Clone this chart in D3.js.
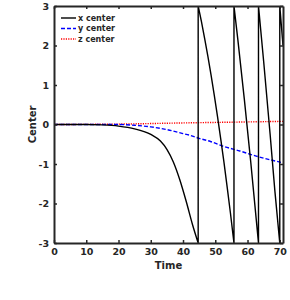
<!DOCTYPE html>
<html>
<head>
<meta charset="utf-8">
<script src="https://cdn.jsdelivr.net/npm/d3@7"></script>
<style>
body { margin: 0; background: #fff; }
text { font-family: "DejaVu Sans", sans-serif; font-weight: bold; fill: #262626; }
</style>
</head>
<body>
<svg id="chart" width="290" height="300"></svg>
<script>
// GLOBALS
var w = 290, h = 300;
var margin = {top: 6, right: 7, bottom: 57, left: 54};

// x center (wrapped into the -3..3 box, so repeated times are the jumps)
var xTime = [0, 10, 15, 20, 25, 30, 33, 35, 37, 39, 41, 43, 44.7,
             44.7, 45.7, 46.7, 47.7, 48.7, 49.7, 50.7, 51.7, 52.7, 53.7, 54.7, 55.8,
             55.8, 57, 59, 61, 63.4,
             63.4, 65, 67, 68.5, 70,
             70, 71];
var xCenter = [0, 0, -0.01, -0.04, -0.11, -0.25, -0.42, -0.63, -0.95, -1.4, -1.95, -2.55, -3,
               3, 2.61, 2.18, 1.73, 1.25, 0.74, 0.2, -0.37, -0.96, -1.59, -2.24, -3,
               3, 2.15, 0.65, -0.95, -3,
               3, 1.6, -0.24, -1.7, -3,
               3, 2.0];

var yTime = [0, 15, 20, 25, 30, 35, 40, 42, 45, 48.5, 52.4, 57.6, 62.7, 68.9, 71];
var yCenter = [0, 0, 0, -0.02, -0.06, -0.13, -0.23, -0.27, -0.35, -0.43, -0.55, -0.67, -0.8, -0.93, -0.97];

var zTime = [0, 20, 40, 60, 71];
var zCenter = [0, 0.01, 0.04, 0.065, 0.08];

var xTicks = [0, 10, 20, 30, 40, 50, 60, 70];
var yTicks = [-3, -2, -1, 0, 1, 2, 3];

var seriesNames = ["x center", "y center", "z center"];

function pairs(t, v) {
	return t.map(function(d, i) { return {t: d, v: v[i]}; });
}

var series = [
	{name: seriesNames[0], data: pairs(xTime, xCenter), color: "#000000", dash: null},
	{name: seriesNames[1], data: pairs(yTime, yCenter), color: "#0000ff", dash: "4,2"},
	{name: seriesNames[2], data: pairs(zTime, zCenter), color: "#ff0000", dash: "1.2,1.2"}
];

var iw = w - margin.left - margin.right,
    ih = h - margin.top - margin.bottom;

var x = d3.scaleLinear().domain([0, 71]).range([0, iw]);
var y = d3.scaleLinear().domain([-3, 3]).range([ih, 0]);

var svg = d3.select("#chart")
  .append("g")
  .attr("transform", "translate(" + margin.left + "," + margin.top + ")");

var line = d3.line()
  .curve(d3.curveMonotoneX)
  .x(function(d) { return x(d.t); })
  .y(function(d) { return y(d.v); });

// split at the wrap jumps (same time twice), smooth each piece, join them back with straight jumps
function wrappedPath(data) {
	var pieces = [[]];
	data.forEach(function(d, i) {
		if (i > 0 && d.t === data[i - 1].t) pieces.push([]);
		pieces[pieces.length - 1].push(d);
	});
	return pieces.map(function(p, i) {
		var s = line(p);
		return i === 0 ? s : "L" + s.slice(1);
	}).join("");
}

svg.append("defs").append("clipPath").attr("id", "clip")
  .append("rect").attr("width", iw).attr("height", ih);

// draw z first so x sits on top like the picture
svg.selectAll(".series")
  .data(series.slice().reverse())
  .enter().append("path")
    .attr("class", "series")
    .attr("clip-path", "url(#clip)")
    .attr("d", function(d) { return wrappedPath(d.data); })
    .attr("fill", "none")
    .attr("stroke", function(d) { return d.color; })
    .attr("stroke-width", 1.4)
    .attr("stroke-dasharray", function(d) { return d.dash; });

// axes, ticks pointing inward on every side
var axisColor = "#262626";
var fmt = function(d) { return String(d); };
var axBottom = svg.append("g").attr("transform", "translate(0," + ih + ")")
  .call(d3.axisBottom(x).tickValues(xTicks).tickFormat(fmt).tickSizeInner(-3).tickSizeOuter(0).tickPadding(5));
var axLeft = svg.append("g")
  .call(d3.axisLeft(y).tickValues(yTicks).tickFormat(fmt).tickSizeInner(-3).tickSizeOuter(0).tickPadding(5));
var axTop = svg.append("g")
  .call(d3.axisTop(x).tickValues(xTicks).tickSizeInner(-3).tickSizeOuter(0).tickFormat(""));
var axRight = svg.append("g").attr("transform", "translate(" + iw + ",0)")
  .call(d3.axisRight(y).tickValues(yTicks).tickSizeInner(-3).tickSizeOuter(0).tickFormat(""));

[axBottom, axLeft, axTop, axRight].forEach(function(g) {
	g.select(".domain").attr("stroke", axisColor).attr("stroke-width", 2);
	g.selectAll(".tick line").attr("stroke", axisColor).attr("stroke-width", 1.5);
	g.selectAll(".tick text").style("font-size", "9.5px").attr("fill", axisColor);
});

svg.append("text")
  .attr("x", iw / 2)
  .attr("y", ih + 26)
  .attr("text-anchor", "middle")
  .style("font-size", "10px")
  .text("Time");

svg.append("text")
  .attr("transform", "translate(" + (-18) + "," + (ih / 2) + ") rotate(-90)")
  .attr("text-anchor", "middle")
  .style("font-size", "10px")
  .text("Center");

// legend
var legend = svg.selectAll(".legend")
  .data(series)
  .enter().append("g")
    .attr("class", "legend")
    .attr("transform", function(d, i) { return "translate(7," + (12 + i * 10.5) + ")"; });

legend.append("line")
  .attr("x1", 0).attr("x2", 15)
  .attr("stroke", function(d) { return d.color; })
  .attr("stroke-width", 1.4)
  .attr("stroke-dasharray", function(d) { return d.dash; });

legend.append("text")
  .attr("x", 17)
  .attr("dy", "0.32em")
  .style("font-size", "8px")
  .text(function(d) { return d.name; });
</script>
</body>
</html>
